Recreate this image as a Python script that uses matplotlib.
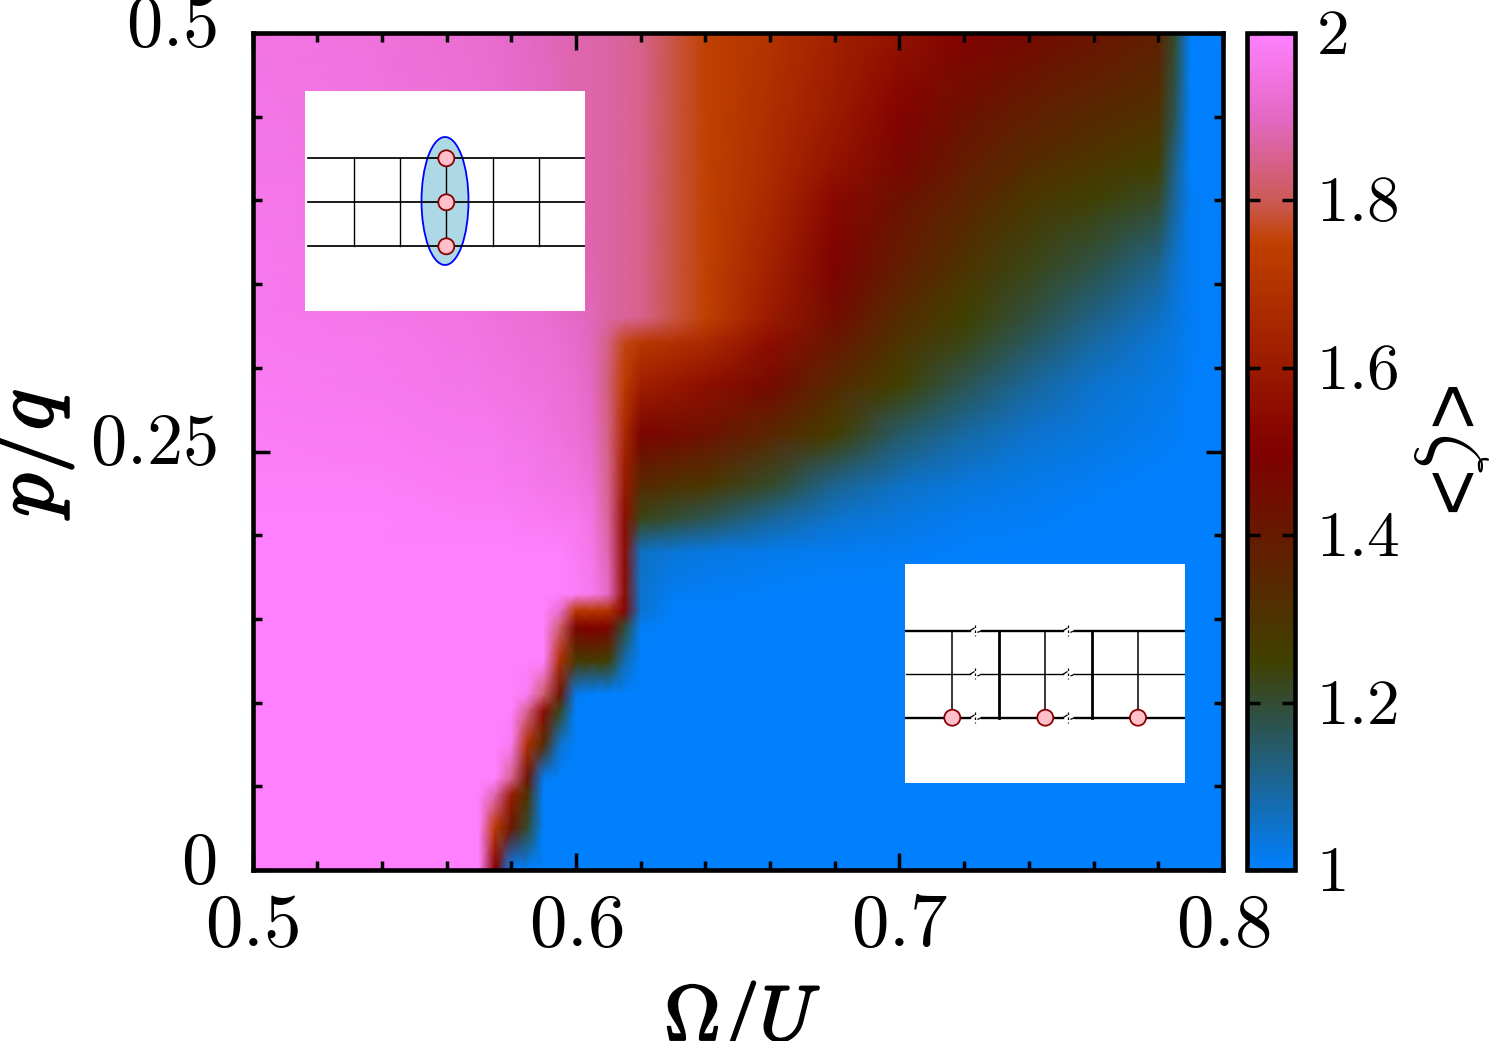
import matplotlib
matplotlib.use('Agg')
import matplotlib.pyplot as plt
import matplotlib.patheffects as pe
from matplotlib.colors import LinearSegmentedColormap
from matplotlib.patches import Ellipse, Circle
from matplotlib.transforms import ScaledTranslation
import numpy as np

plt.rcParams['mathtext.fontset'] = 'cm'

W, H = 1490, 1041

# data
omega = [0.50, 0.54, 0.565, 0.57, 0.575, 0.58, 0.585, 0.59, 0.595, 0.60, 0.605, 0.61, 0.615,
         0.62, 0.63, 0.64, 0.66, 0.68, 0.70, 0.72, 0.74, 0.76, 0.78, 0.785, 0.79, 0.80]
pq = [0.0, 0.025, 0.045, 0.055, 0.075, 0.095, 0.105, 0.125, 0.145, 0.155, 0.165, 0.19,
      0.21, 0.23, 0.26, 0.29, 0.315, 0.33, 0.36, 0.40, 0.42, 0.45, 0.50]
zeta = [
    [2, 2, 2, 2, 1.5, 1, 1, 1, 1, 1, 1, 1, 1, 1, 1, 1, 1, 1, 1, 1, 1, 1, 1, 1, 1, 1],
    [2, 2, 2, 2, 1.72, 1.41, 1.2, 1, 1, 1, 1, 1, 1, 1, 1, 1, 1, 1, 1, 1, 1, 1, 1, 1, 1, 1],
    [2, 2, 2, 2, 1.88, 1.6, 1.3, 1, 1, 1, 1, 1, 1, 1, 1, 1, 1, 1, 1, 1, 1, 1, 1, 1, 1, 1],
    [2, 2, 2, 2, 2, 1.85, 1.42, 1.02, 1, 1, 1, 1, 1, 1, 1, 1, 1, 1, 1, 1, 1, 1, 1, 1, 1, 1],
    [2, 2, 2, 2, 2, 1.98, 1.68, 1.33, 1.05, 1, 1, 1, 1, 1, 1, 1, 1, 1, 1, 1, 1, 1, 1, 1, 1, 1],
    [2, 2, 2, 2, 2, 2, 1.85, 1.55, 1.22, 1, 1, 1, 1, 1, 1, 1, 1, 1, 1, 1, 1, 1, 1, 1, 1, 1],
    [2, 2, 2, 2, 2, 2, 1.98, 1.82, 1.42, 1.02, 1, 1, 1, 1, 1, 1, 1, 1, 1, 1, 1, 1, 1, 1, 1, 1],
    [2, 2, 2, 2, 2, 2, 2, 2, 1.68, 1.28, 1.27, 1.25, 1.08, 1, 1, 1, 1, 1, 1, 1, 1, 1, 1, 1, 1, 1],
    [2, 2, 2, 2, 2, 2, 2, 2, 1.82, 1.48, 1.5, 1.48, 1.2, 1.01, 1, 1, 1, 1, 1, 1, 1, 1, 1, 1, 1, 1],
    [2, 2, 2, 2, 2, 2, 2, 2, 1.92, 1.72, 1.72, 1.7, 1.52, 1.05, 1, 1, 1, 1, 1, 1, 1, 1, 1, 1, 1, 1],
    [2, 2, 2, 2, 2, 2, 2, 2, 2, 1.99, 1.97, 1.9, 1.55, 1.05, 1.015, 1.01, 1.005, 1, 1, 1, 1, 1, 1, 1, 1, 1],
    [2, 2, 2, 2, 2, 2, 2, 2, 2, 1.98, 1.96, 1.88, 1.55, 1.06, 1.04, 1.03, 1.02, 1.015, 1.01, 1.005, 1, 1, 1, 1, 1, 1],
    [2, 2, 1.99, 1.99, 1.99, 1.99, 1.98, 1.98, 1.97, 1.97, 1.95, 1.86, 1.55, 1.23, 1.2, 1.17, 1.1, 1.05, 1.03, 1.015, 1.01, 1, 1, 1, 1, 1],
    [1.99, 1.99, 1.98, 1.98, 1.98, 1.97, 1.97, 1.96, 1.96, 1.95, 1.93, 1.85, 1.6, 1.34, 1.31, 1.29, 1.21, 1.11, 1.06, 1.035, 1.02, 1.01, 1, 1, 1, 1],
    [1.985, 1.98, 1.97, 1.97, 1.97, 1.96, 1.96, 1.95, 1.94, 1.93, 1.91, 1.84, 1.66, 1.48, 1.46, 1.43, 1.35, 1.26, 1.15, 1.09, 1.05, 1.03, 1.015, 1.01, 1, 1],
    [1.98, 1.97, 1.96, 1.96, 1.95, 1.95, 1.94, 1.94, 1.93, 1.92, 1.9, 1.83, 1.73, 1.62, 1.59, 1.56, 1.46, 1.34, 1.25, 1.17, 1.1, 1.05, 1.025, 1.02, 1.005, 1],
    [1.975, 1.965, 1.955, 1.95, 1.945, 1.94, 1.935, 1.93, 1.92, 1.91, 1.89, 1.84, 1.76, 1.72, 1.69, 1.665, 1.55, 1.41, 1.3, 1.23, 1.16, 1.09, 1.04, 1.03, 1.01, 1],
    [1.97, 1.96, 1.95, 1.945, 1.94, 1.935, 1.93, 1.925, 1.915, 1.905, 1.89, 1.87, 1.86, 1.85, 1.79, 1.75, 1.6, 1.45, 1.33, 1.25, 1.19, 1.12, 1.06, 1.035, 1.01, 1],
    [1.97, 1.955, 1.945, 1.94, 1.935, 1.93, 1.925, 1.915, 1.905, 1.895, 1.88, 1.87, 1.86, 1.85, 1.79, 1.75, 1.63, 1.49, 1.385, 1.3, 1.23, 1.18, 1.11, 1.05, 1.01, 1],
    [1.965, 1.95, 1.94, 1.935, 1.93, 1.925, 1.915, 1.905, 1.895, 1.885, 1.875, 1.87, 1.86, 1.85, 1.79, 1.75, 1.66, 1.53, 1.43, 1.36, 1.29, 1.245, 1.21, 1.1, 1.01, 1],
    [1.96, 1.95, 1.935, 1.93, 1.925, 1.92, 1.91, 1.9, 1.89, 1.885, 1.875, 1.87, 1.86, 1.85, 1.79, 1.75, 1.67, 1.57, 1.47, 1.39, 1.33, 1.29, 1.255, 1.12, 1, 1],
    [1.96, 1.945, 1.93, 1.925, 1.92, 1.915, 1.905, 1.9, 1.89, 1.88, 1.875, 1.87, 1.86, 1.85, 1.79, 1.75, 1.68, 1.6, 1.51, 1.43, 1.38, 1.34, 1.31, 1.17, 1, 1],
    [1.955, 1.94, 1.925, 1.92, 1.915, 1.91, 1.9, 1.895, 1.885, 1.88, 1.875, 1.87, 1.86, 1.85, 1.79, 1.75, 1.7, 1.63, 1.57, 1.51, 1.46, 1.42, 1.38, 1.21, 1, 1],
]

x_major = [0.5, 0.6, 0.7, 0.8]
x_minor = [0.52, 0.54, 0.56, 0.58, 0.62, 0.64, 0.66, 0.68, 0.72, 0.74, 0.76, 0.78]
y_major = [0, 0.25, 0.5]
y_minor = [0.05, 0.1, 0.15, 0.2, 0.3, 0.35, 0.4, 0.45]
cb_ticks = [1, 1.2, 1.4, 1.6, 1.8, 2]

# palette stops
cmap = LinearSegmentedColormap.from_list(
    'zeta', [(0, '#0080ff'), (0.25, '#404000'), (0.5, '#800000'), (0.75, '#c04000'),
             (0.8, '#cb5a55'), (0.9, '#e468c4'), (1, '#ff80ff')], N=512)

# inset lattices, in figure pixels
rungs_a = [354.3, 400.3, 446.3, 493.3, 539.3]
rails_a = [158.3, 202.3, 246.3]
rails_b = [630.7, 674.3, 717.7]
rail_width_b = [1.7, 1.0, 1.7]
rungs_thin_b = [952.3, 1045.3, 1138.0]
rungs_thick_b = [999.0, 1092.0]
breaks_b = [(970, 981.5), (1063, 1074.5)]


def rect(x0, y0, x1, y1):
    # pixel box -> figure fractions
    return [x0 / W, 1 - y1 / H, (x1 - x0) / W, (y1 - y0) / H]


def blank_axes(x0, y0, x1, y1):
    a = fig.add_axes(rect(x0, y0, x1, y1), zorder=5)
    a.set_xlim(x0, x1)
    a.set_ylim(y1, y0)
    a.set_xticks([])
    a.set_yticks([])
    a.set_facecolor('white')
    for s in a.spines.values():
        s.set_visible(False)
    return a


fig = plt.figure(figsize=(W / 100, H / 100), dpi=100)
ax = fig.add_axes(rect(252.5, 33, 1223, 870))
mesh = ax.pcolormesh(omega, pq, np.array(zeta), shading='gouraud', cmap=cmap, vmin=1, vmax=2)
ax.set_xlim(0.5, 0.8)
ax.set_ylim(0, 0.5)

ax.set_xticks(x_major)
ax.set_xticks(x_minor, minor=True)
ax.set_yticks(y_major)
ax.set_yticks(y_minor, minor=True)
ax.set_xticklabels(['$0.5$', '$0.6$', '$0.7$', '$0.8$'], fontsize=54)
ax.set_yticklabels(['$0$', '$0.25$', '$0.5$'], fontsize=52)
ax.tick_params(which='major', direction='in', top=True, right=True, length=12.2, width=2.5)
ax.tick_params(which='minor', direction='in', top=True, right=True, length=6.8, width=2.5)
ax.tick_params(axis='x', which='major', pad=13.5)
ax.tick_params(axis='y', which='major', pad=26)
for s in ax.spines.values():
    s.set_linewidth(3.3)

# y labels sit a little above their ticks
up = ScaledTranslation(0, 14 / 100, fig.dpi_scale_trans)
for t in ax.yaxis.get_major_ticks():
    t.label1.set_transform(t.label1.get_transform() + up)

bold = [pe.withStroke(linewidth=1.6, foreground='black')]
ax.set_xlabel(r'$\Omega/U$', fontsize=56, path_effects=bold)
ax.xaxis.set_label_coords(0.505, -0.13)
ax.set_ylabel(r'$p/q$', fontsize=62, path_effects=bold)
ax.yaxis.set_label_coords(-0.183, 0.5)

cax = fig.add_axes(rect(1247, 33, 1295, 870))
cb = fig.colorbar(mesh, cax=cax)
cb.set_ticks(cb_ticks, labels=['$1$', '$1.2$', '$1.4$', '$1.6$', '$1.8$', '$2$'])
cb.ax.tick_params(direction='in', left=True, right=True, length=9.6, width=2.5, labelsize=47, pad=15)
cb.outline.set_linewidth(3.3)
up_cb = ScaledTranslation(0, 4 / 100, fig.dpi_scale_trans)
for t in cb.ax.yaxis.get_major_ticks():
    t.label2.set_transform(t.label2.get_transform() + up_cb)

# angle brackets are upright sans glyphs in the original, so they go in as separate texts
cb.set_label(r'$\zeta$', fontsize=60, rotation=270, va='center', ha='center')
cb.ax.yaxis.set_label_coords(4.27, 0.5)
for frac, ch in [(0.55, '<'), (0.448, '>')]:
    cax.text(4.05, frac, ch, transform=cax.transAxes, rotation=270, ha='center', va='center',
             family='Liberation Sans', fontsize=58, clip_on=False)

# first inset: bound state on one rung
ia = blank_axes(305, 91, 585, 311)
ia.add_patch(Ellipse((445, 201), 47, 128, fc='lightblue', ec='blue', lw=1.3, zorder=1))
for y in rails_a:
    ia.plot([308, 585], [y, y], color='black', lw=1.25, zorder=2)
for x in rungs_a:
    ia.plot([x, x], [rails_a[0], rails_a[-1]], color='black', lw=1.0, zorder=2)
for y in rails_a:
    ia.add_patch(Circle((rungs_a[2], y), 8, fc='pink', ec='darkred', lw=1.3, zorder=4))

# second inset: one particle per three sites
ib = blank_axes(905, 564, 1185, 783)
for y, lw in zip(rails_b, rail_width_b):
    ib.plot([906, breaks_b[0][0]], [y, y], color='black', lw=lw, zorder=1)
    ib.plot([breaks_b[0][1], breaks_b[1][0]], [y, y], color='black', lw=lw, zorder=1)
    ib.plot([breaks_b[1][1], 1185], [y, y], color='black', lw=lw, zorder=1)
    for a, b in breaks_b:
        ib.plot([a, a + 4], [y, y - 2.5], color='black', lw=0.9)
        ib.plot([a + 5, a + 5], [y - 6, y + 5], color='black', lw=0.9, ls=(0, (2, 2)))
        ib.plot([b - 3.5, b], [y + 1.5, y], color='black', lw=0.9)
for x in rungs_thin_b:
    ib.plot([x, x], [rails_b[0], rails_b[-1]], color='black', lw=1.1, zorder=1)
for x in rungs_thick_b:
    ib.plot([x, x], [rails_b[0], rails_b[-1]], color='black', lw=2.0, zorder=1)
for x in rungs_thin_b:
    ib.add_patch(Circle((x, rails_b[-1]), 8, fc='pink', ec='darkred', lw=1.3, zorder=4))

fig.savefig('out.png', dpi=100)
